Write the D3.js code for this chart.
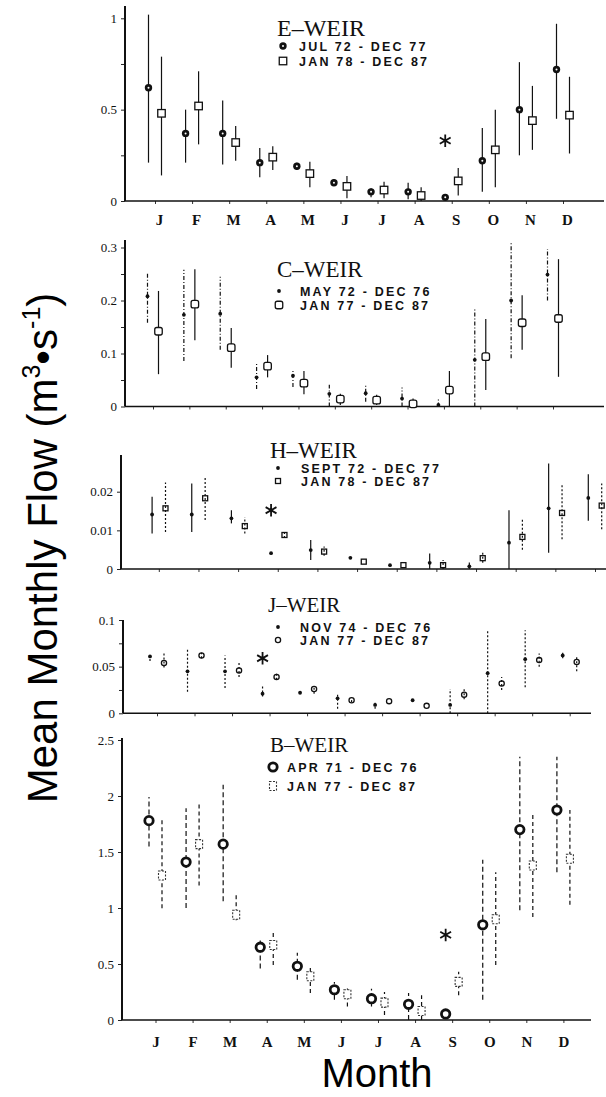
<!DOCTYPE html>
<html>
<head>
<meta charset="utf-8">
<script src="https://cdn.jsdelivr.net/npm/d3@7"></script>
<style>
  body { margin: 0; background: #fff; }
  svg { display: block; }
</style>
</head>
<body>
<svg id="chart" width="606" height="1097"></svg>
<script>
const months = ['J', 'F', 'M', 'A', 'M', 'J', 'J', 'A', 'S', 'O', 'N', 'D']

// E-WEIR
const eMeanA = [0.62, 0.37, 0.37, 0.21, 0.19, 0.10, 0.05, 0.05, 0.02, 0.22, 0.50, 0.72]
const eLoA   = [0.21, 0.21, 0.20, 0.13, 0.17, 0.085, 0.02, 0.01, 0.02, 0.05, 0.25, 0.45]
const eHiA   = [1.02, 0.50, 0.55, 0.29, 0.21, 0.12, 0.07, 0.10, 0.02, 0.40, 0.76, 0.97]
const eMeanB = [0.48, 0.52, 0.32, 0.24, 0.15, 0.08, 0.06, 0.03, 0.11, 0.28, 0.44, 0.47]
const eLoB   = [0.14, 0.31, 0.22, 0.17, 0.075, 0.015, 0.015, 0.0, 0.03, 0.075, 0.28, 0.26]
const eHiB   = [0.79, 0.71, 0.41, 0.30, 0.215, 0.137, 0.105, 0.075, 0.18, 0.50, 0.63, 0.68]

// C-WEIR
const cMeanA = [0.208, 0.173, 0.175, 0.055, 0.058, 0.024, 0.025, 0.015, 0.003, 0.088, 0.20, 0.249]
const cLoA   = [0.158, 0.086, 0.107, 0.033, 0.037, 0.0, 0.009, 0.0, 0.0, 0.0, 0.091, 0.20]
const cHiA   = [0.254, 0.258, 0.245, 0.083, 0.07, 0.041, 0.041, 0.036, 0.015, 0.185, 0.31, 0.297]
const cMeanB = [0.142, 0.193, 0.111, 0.076, 0.044, 0.014, 0.012, 0.005, 0.031, 0.094, 0.158, 0.166]
const cLoB   = [0.061, 0.125, 0.073, 0.055, 0.023, 0.003, 0.003, 0.0, 0.0, 0.031, 0.107, 0.056]
const cHiB   = [0.218, 0.259, 0.148, 0.097, 0.067, 0.024, 0.022, 0.015, 0.067, 0.165, 0.21, 0.278]

// H-WEIR
const hMeanA = [0.0141, 0.0141, 0.0131, 0.0041, 0.0049, 0.0029, 0.001, 0.0016, 0.0007, 0.0068, 0.0157, 0.0184]
const hLoA   = [0.0092, 0.0096, 0.0118, 0.0041, 0.0023, 0.0029, 0.001, 0.0, 0.0, 0.0, 0.0042, 0.0125]
const hHiA   = [0.0187, 0.0221, 0.0152, 0.0041, 0.0075, 0.0029, 0.001, 0.004, 0.0017, 0.0152, 0.0273, 0.0245]
const hMeanB = [0.0157, 0.0183, 0.0111, 0.0088, 0.0045, 0.0019, 0.001, 0.001, 0.0028, 0.0083, 0.0145, 0.0164]
const hLoB   = [0.0096, 0.0127, 0.0092, 0.008, 0.0034, 0.0019, 0.001, 0.0, 0.0016, 0.005, 0.0077, 0.0103]
const hHiB   = [0.0224, 0.0239, 0.0134, 0.0096, 0.0058, 0.0019, 0.001, 0.0023, 0.0045, 0.0131, 0.0217, 0.0221]

// J-WEIR
const jMeanA = [0.061, 0.045, 0.045, 0.021, 0.022, 0.016, 0.009, 0.014, 0.009, 0.043, 0.058, 0.062]
const jLoA   = [0.056, 0.023, 0.027, 0.018, 0.022, 0.005, 0.005, 0.014, 0.0, 0.0, 0.028, 0.059]
const jHiA   = [0.064, 0.068, 0.062, 0.029, 0.022, 0.021, 0.013, 0.014, 0.026, 0.089, 0.089, 0.065]
const jMeanB = [0.054, 0.062, 0.046, 0.039, 0.026, 0.014, 0.013, 0.008, 0.02, 0.032, 0.057, 0.055]
const jLoB   = [0.049, 0.059, 0.039, 0.036, 0.021, 0.012, 0.013, 0.008, 0.015, 0.025, 0.05, 0.045]
const jHiB   = [0.064, 0.065, 0.054, 0.043, 0.029, 0.016, 0.013, 0.008, 0.026, 0.039, 0.064, 0.062]

// B-WEIR
const bMeanA = [1.78, 1.41, 1.57, 0.65, 0.48, 0.27, 0.19, 0.14, 0.054, 0.85, 1.70, 1.875]
const bLoA   = [1.55, 1.0, 1.06, 0.46, 0.36, 0.18, 0.12, 0.0, 0.054, 0.18, 0.98, 1.32]
const bHiA   = [1.99, 1.89, 2.10, 0.71, 0.60, 0.34, 0.28, 0.24, 0.054, 1.43, 2.35, 2.35]
const bMeanB = [1.29, 1.57, 0.94, 0.67, 0.39, 0.23, 0.155, 0.08, 0.34, 0.90, 1.38, 1.44]
const bLoB   = [0.997, 1.2, 0.89, 0.49, 0.24, 0.12, 0.045, 0.0, 0.22, 0.49, 0.92, 1.03]
const bHiB   = [1.80, 1.93, 1.13, 0.79, 0.49, 0.30, 0.25, 0.22, 0.43, 1.32, 1.83, 1.875]

const weirNames = ['E\u2013WEIR', 'C\u2013WEIR', 'H\u2013WEIR', 'J\u2013WEIR', 'B\u2013WEIR']
const periodsA = ['JUL 72 - DEC 77', 'MAY 72 - DEC 76', 'SEPT 72 - DEC 77', 'NOV 74 - DEC 76', 'APR 71 - DEC 76']
const periodsB = ['JAN 78 - DEC 87', 'JAN 77 - DEC 87', 'JAN 78 - DEC 87', 'JAN 77 - DEC 87', 'JAN 77 - DEC 87']

// asterisk marks (month index, value)
const starMonth = [8, null, 3, 3, 8]
const starValue = [0.33, null, 0.0152, 0.059, 0.76]

const yTicks = [
    [0, 0.25, 0.5, 0.75, 1],
    [0, 0.05, 0.1, 0.15, 0.2, 0.25, 0.3],
    [0, 0.01, 0.02],
    [0, 0.025, 0.05, 0.075, 0.1],
    [0, 0.5, 1, 1.5, 2, 2.5]
]
const yLabels = [
    [0, 0.5, 1],
    [0, 0.1, 0.2, 0.3],
    [0, 0.01, 0.02],
    [0, 0.05, 0.1],
    [0, 0.5, 1, 1.5, 2, 2.5]
]

let panels = [
    { mean: [eMeanA, eMeanB], lo: [eLoA, eLoB], hi: [eHiA, eHiB], max: 1,
      ax: 125, axEnd: 604, jan: 155, dec: 563, off: 6.5, y0: 201, yMax: 18.3, axTop: 6,
      marks: ['bull', 'sq'], dash: [null, null],
      legend: { tx: 277, ty: 36, mx: 283, lx: 299, e1: 46, e2: 61, size: 24 } },
    { mean: [cMeanA, cMeanB], lo: [cLoA, cLoB], hi: [cHiA, cHiB], max: 0.3,
      ax: 125, axEnd: 604, jan: 153, dec: 553, off: 5.5, y0: 406.5, yMax: 247.5, axTop: 240,
      marks: ['dot', 'osq'], dash: ['4,2,1,2', null],
      legend: { tx: 277, ty: 277, mx: 279, lx: 300, e1: 291, e2: 305, size: 23 } },
    { mean: [hMeanA, hMeanB], lo: [hLoA, hLoB], hi: [hHiA, hHiB], max: 0.02,
      ax: 121, axEnd: 606, jan: 158.8, dec: 595, off: 6.7, y0: 569, yMax: 491.7, axTop: 455,
      marks: ['dot', 'ssq'], dash: [null, '2,2'],
      legend: { tx: 270, ty: 458, mx: 278, lx: 301, e1: 468, e2: 481, size: 23 } },
    { mean: [jMeanA, jMeanB], lo: [jLoA, jLoB], hi: [jHiA, jHiB], max: 0.1,
      ax: 123, axEnd: 591, jan: 157, dec: 569.7, off: 7, y0: 713.3, yMax: 620, axTop: 620,
      marks: ['dot', 'cdot'], dash: ['2,2', '2,2'],
      legend: { tx: 268, ty: 612, mx: 278, lx: 300, e1: 627, e2: 640, size: 21 } },
    { mean: [bMeanA, bMeanB], lo: [bLoA, bLoB], hi: [bHiA, bHiB], max: 2.5,
      ax: 122, axEnd: 591, jan: 155.5, dec: 563.4, off: 6.5, y0: 1020, yMax: 740, axTop: 738,
      marks: ['ring', 'dsq'], dash: ['5,3', '4,3'],
      legend: { tx: 270, ty: 752, mx: 273, lx: 287, e1: 767, e2: 786, size: 21 } }
]

let svg = d3.select('#chart')

let drawMark = (g, type, x, y) => {
    if (type == 'bull') {
        g.append('circle').attr('cx', x).attr('cy', y).attr('r', 3.7).attr('fill', '#111')
        g.append('circle').attr('cx', x).attr('cy', y).attr('r', 1).attr('fill', '#fff')
    } else if (type == 'sq' || type == 'osq' || type == 'ssq') {
        let s = type == 'ssq' ? 5 : 7.5
        g.append('rect').attr('x', x - s / 2).attr('y', y - s / 2)
            .attr('width', s).attr('height', s)
            .attr('rx', type == 'osq' ? 2 : 0)
            .attr('fill', type == 'ssq' ? 'none' : '#fff')
            .attr('stroke', '#111').attr('stroke-width', 1.3)
    } else if (type == 'dot') {
        g.append('circle').attr('cx', x).attr('cy', y).attr('r', 1.9).attr('fill', '#111')
    } else if (type == 'cdot') {
        g.append('circle').attr('cx', x).attr('cy', y).attr('r', 2.6)
            .attr('fill', 'none').attr('stroke', '#111').attr('stroke-width', 1.3)
    } else if (type == 'ring') {
        g.append('circle').attr('cx', x).attr('cy', y).attr('r', 4.2)
            .attr('fill', '#fff').attr('stroke', '#111').attr('stroke-width', 2.8)
    } else if (type == 'dsq') {
        g.append('rect').attr('x', x - 3.5).attr('y', y - 4.5).attr('width', 7).attr('height', 9)
            .attr('fill', '#fff').attr('stroke', '#333').attr('stroke-width', 1.1)
            .attr('stroke-dasharray', '2,1.5')
    }
}

panels.forEach((p, k) => {
    let g = svg.append('g').attr('class', 'panel')

    let x = d3.scalePoint().domain(d3.range(12)).range([p.jan, p.dec])
    let y = d3.scaleLinear().domain([0, p.max]).range([p.y0, p.yMax])

    // y axis
    let yAxis = d3.axisLeft(y)
        .tickValues(yTicks[k])
        .tickSize(4)
        .tickPadding(4)
        .tickFormat((d) => yLabels[k].includes(d) ? String(d) : '')
    let ya = g.append('g').attr('transform', `translate(${p.ax},0)`).call(yAxis)
    ya.select('.domain').remove()
    ya.selectAll('.tick line').attr('stroke', '#222').attr('stroke-width', 1)
    ya.selectAll('.tick text')
        .attr('font-family', 'Liberation Serif, serif')
        .attr('font-size', 13)
        .attr('fill', '#111')

    // small month ticks under the x axis
    let xt = g.append('g')
        .attr('transform', `translate(0,${p.y0})`)
        .call(d3.axisBottom(x).tickSize(3).tickFormat(''))
    xt.select('.domain').remove()
    xt.selectAll('.tick line').attr('stroke', '#333').attr('stroke-width', 1)

    g.append('line')
        .attr('x1', p.ax).attr('x2', p.ax)
        .attr('y1', p.y0).attr('y2', p.axTop)
        .attr('stroke', '#111').attr('stroke-width', 2)
    g.append('line')
        .attr('x1', p.ax).attr('x2', p.axEnd)
        .attr('y1', p.y0).attr('y2', p.y0)
        .attr('stroke', '#111').attr('stroke-width', 1.6)

    // error bars and means
    for (let s = 0; s < 2; s++) {
        let dx = s == 0 ? -p.off : p.off
        let sg = g.append('g').attr('class', 'series' + s)
        sg.selectAll('line')
            .data(d3.range(12).filter((i) => p.hi[s][i] > p.lo[s][i]))
            .enter()
            .append('line')
            .attr('x1', (i) => x(i) + dx)
            .attr('x2', (i) => x(i) + dx)
            .attr('y1', (i) => y(p.lo[s][i]))
            .attr('y2', (i) => y(p.hi[s][i]))
            .attr('stroke', '#111')
            .attr('stroke-width', 1.2)
            .attr('stroke-dasharray', p.dash[s])
        d3.range(12).forEach((i) => {
            drawMark(sg, p.marks[s], x(i) + dx, y(p.mean[s][i]))
        })
    }

    // asterisk
    if (starMonth[k] != null) {
        g.append('path')
            .attr('d', d3.symbol(d3.symbolAsterisk, 110)())
            .attr('transform', `translate(${x(starMonth[k]) - p.off},${y(starValue[k])})`)
            .attr('stroke', '#111').attr('stroke-width', 1.8).attr('fill', 'none')
    }

    // legend
    let L = p.legend
    g.append('text')
        .attr('x', L.tx).attr('y', L.ty)
        .attr('font-family', 'Liberation Serif, serif')
        .attr('font-size', L.size)
        .attr('fill', '#111')
        .text(weirNames[k])
    let lg = g.append('g')
    drawMark(lg, p.marks[0], L.mx, L.e1)
    drawMark(lg, p.marks[1], L.mx, L.e2)
    ;[periodsA[k], periodsB[k]].forEach((t, j) => {
        g.append('text')
            .attr('x', L.lx).attr('y', j == 0 ? L.e1 : L.e2)
            .attr('dy', '0.36em')
            .attr('font-family', 'Liberation Sans, Arial, sans-serif')
            .attr('font-weight', 'bold')
            .attr('font-size', 12.5)
            .attr('letter-spacing', 2.2)
            .attr('fill', '#111')
            .text(t)
    })

    // month labels on top and bottom panels
    if (k == 0 || k == 4) {
        let shift = k == 0 ? 4 : 0
        let base = k == 0 ? 214 : 1036
        let xa = g.append('g')
            .attr('transform', `translate(${shift},${base})`)
            .call(d3.axisBottom(x).tickSize(0).tickPadding(0).tickFormat((i) => months[i]))
        xa.select('.domain').remove()
        xa.selectAll('text')
            .attr('font-family', 'Liberation Serif, serif')
            .attr('font-weight', 'bold')
            .attr('font-size', 15)
            .attr('fill', '#111')
    }
})

// axis titles
let yt = svg.append('text')
    .attr('transform', 'translate(57,548) rotate(-90)')
    .attr('text-anchor', 'middle')
    .attr('font-family', 'Liberation Sans, Arial, sans-serif')
    .attr('font-size', 42)
    .attr('fill', '#000')
yt.append('tspan').text('Mean Monthly Flow (m')
yt.append('tspan').attr('font-size', 25).attr('dy', -17).text('3')
yt.append('tspan').attr('dy', 17).text('\u2022s')
yt.append('tspan').attr('font-size', 25).attr('dy', -17).text('-1')
yt.append('tspan').attr('dy', 17).text(')')

svg.append('text')
    .attr('x', 377).attr('y', 1087)
    .attr('text-anchor', 'middle')
    .attr('font-family', 'Liberation Sans, Arial, sans-serif')
    .attr('font-size', 40)
    .attr('fill', '#000')
    .text('Month')
</script>
</body>
</html>
